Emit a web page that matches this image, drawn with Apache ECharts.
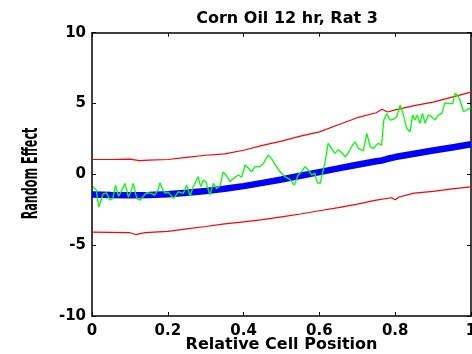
<!DOCTYPE html>
<html>
<head>
<meta charset="utf-8">
<script src="https://cdn.jsdelivr.net/npm/echarts@6/dist/echarts.min.js"></script>
<style>
html,body{margin:0;padding:0;background:#fff;}
#c{width:472px;height:354px;}
</style>
</head>
<body>
<div id="c"></div>
<script>
var titleText = 'Corn Oil 12 hr, Rat 3';
var xName = 'Relative Cell Position';
var yName = 'Random Effect';
var xTicks = [0, 0.2, 0.4, 0.6, 0.8, 1];
var yTicks = [-10, -5, 0, 5, 10];

// fitted curve (blue)
var fitX = [0, 0.05, 0.1, 0.15, 0.2, 0.25, 0.3, 0.35, 0.4, 0.45, 0.5, 0.55, 0.6, 0.65, 0.7, 0.75, 0.765, 0.78, 0.8, 0.85, 0.9, 0.95, 1.0];
var fitY = [-1.42, -1.45, -1.47, -1.45, -1.40, -1.30, -1.17, -1.02, -0.83, -0.60, -0.36, -0.10, 0.16, 0.42, 0.68, 0.92, 0.98, 1.10, 1.22, 1.45, 1.68, 1.90, 2.12];

// upper band (red)
var upX = [0, 0.05, 0.1, 0.125, 0.15, 0.2, 0.25, 0.3, 0.35, 0.4, 0.45, 0.5, 0.55, 0.6, 0.65, 0.7, 0.75, 0.765, 0.78, 0.8, 0.85, 0.9, 0.95, 1.0];
var upY = [1.05, 1.05, 1.08, 0.97, 1.00, 1.05, 1.20, 1.35, 1.45, 1.70, 2.05, 2.35, 2.70, 3.00, 3.50, 4.00, 4.35, 4.60, 4.40, 4.55, 4.85, 5.10, 5.45, 5.80];

// lower band (red)
var loX = [0, 0.05, 0.1, 0.115, 0.14, 0.2, 0.25, 0.3, 0.35, 0.4, 0.45, 0.5, 0.55, 0.6, 0.65, 0.7, 0.75, 0.79, 0.8, 0.81, 0.85, 0.9, 0.95, 1.0];
var loY = [-4.08, -4.10, -4.12, -4.25, -4.12, -4.02, -3.85, -3.68, -3.50, -3.35, -3.20, -3.00, -2.80, -2.57, -2.35, -2.10, -1.82, -1.65, -1.80, -1.60, -1.32, -1.20, -1.02, -0.88];

// observed (green)
var obsX = [0.003,0.011,0.018,0.029,0.038,0.047,0.055,0.062,0.070,0.077,0.087,0.096,0.103,0.109,0.118,0.127,0.137,0.145,0.156,0.166,0.174,0.179,0.187,0.193,0.201,0.215,0.228,0.241,0.250,0.259,0.267,0.272,0.280,0.287,0.294,0.301,0.311,0.320,0.329,0.338,0.346,0.355,0.364,0.373,0.386,0.395,0.404,0.412,0.421,0.430,0.443,0.452,0.459,0.465,0.474,0.483,0.494,0.509,0.522,0.534,0.544,0.553,0.562,0.571,0.580,0.588,0.594,0.602,0.610,0.616,0.623,0.632,0.641,0.650,0.659,0.668,0.676,0.685,0.694,0.703,0.707,0.716,0.725,0.734,0.742,0.755,0.764,0.770,0.778,0.786,0.795,0.804,0.813,0.821,0.830,0.839,0.846,0.852,0.858,0.865,0.872,0.879,0.887,0.896,0.905,0.914,0.923,0.931,0.943,0.952,0.958,0.964,0.971,0.980,0.989,0.996,1.0];
var obsY = [-0.87,-1.10,-2.30,-1.40,-1.30,-1.80,-1.70,-0.76,-1.55,-1.20,-0.64,-1.60,-1.20,-0.64,-1.70,-1.82,-1.50,-1.30,-1.35,-1.46,-1.10,-0.60,-1.10,-1.34,-1.25,-1.70,-1.23,-1.34,-0.76,-1.53,-0.87,-0.76,-0.17,-0.87,-0.40,-0.55,-1.46,-0.64,-1.00,-0.80,0.18,-0.10,-0.52,-0.30,-0.05,-0.20,0.66,0.45,0.18,0.55,0.54,0.75,1.10,1.36,1.10,0.70,0.25,-0.17,-0.35,-0.76,-0.05,0.18,0.54,0.30,-0.05,0.10,-0.59,-0.64,0.30,1.00,2.19,1.83,1.48,1.75,1.53,1.24,1.50,1.95,2.30,1.83,1.71,1.65,2.89,1.95,1.83,2.19,2.05,3.83,4.30,3.83,3.88,4.07,4.89,4.30,3.25,3.01,4.18,3.83,4.18,3.60,4.30,3.60,4.18,4.07,3.83,4.18,4.30,5.05,5.00,5.00,5.72,5.60,5.24,4.42,4.54,4.66,4.70];

function pairs(xs, ys){ return xs.map(function(x,i){ return [x, ys[i]]; }); }

var FONT = 'DejaVu Sans';
var chart = echarts.init(document.getElementById('c'), null, {renderer:'canvas'});

function axisBase(){
  return {
    type: 'value',
    axisLine: {show: true, onZero: false, lineStyle: {color: '#000', width: 1.5}},
    axisTick: {show: true, inside: true, length: 4, lineStyle: {color: '#000', width: 1}},
    splitLine: {show: false}
  };
}

chart.setOption({
  animation: false,
  backgroundColor: '#fff',
  title: {
    text: titleText,
    left: 282, top: 6,
    textAlign: 'center',
    textStyle: {fontFamily: FONT, fontWeight: 'bold', fontSize: 16, color: '#000'}
  },
  grid: {left: 92, right: 1, top: 32.7, bottom: 38, containLabel: false, outerBoundsMode: 'none'},
  xAxis: [
    Object.assign(axisBase(), {
      position: 'bottom', min: xTicks[0], max: xTicks[xTicks.length-1], interval: 0.2,
      name: xName, nameLocation: 'middle', nameGap: 21, nameMoveOverlap: false,
      nameTextStyle: {fontFamily: FONT, fontWeight: 'bold', fontSize: 16, color: '#000', verticalAlign: 'top'},
      axisLabel: {show: true, margin: 8, fontFamily: FONT, fontWeight: 'bold', fontSize: 15, color: '#000'}
    }),
    Object.assign(axisBase(), {
      position: 'top', min: 0, max: 1, interval: 0.2, axisLabel: {show: false}
    })
  ],
  yAxis: [
    Object.assign(axisBase(), {
      position: 'left', min: yTicks[0], max: yTicks[yTicks.length-1], interval: 5,
      axisLabel: {show: true, margin: 6, fontFamily: FONT, fontWeight: 'bold', fontSize: 15, color: '#000'}
    }),
    Object.assign(axisBase(), {
      position: 'right', min: -10, max: 10, interval: 5, axisLabel: {show: false}
    })
  ],
  graphic: [{
    type: 'text',
    x: 31, y: 173.5,
    rotation: Math.PI/2,
    scaleX: 0.56, scaleY: 1.1,
    style: {text: yName, fontFamily: FONT, fontWeight: 'bold', fontSize: 20, fill: '#000', align: 'center', verticalAlign: 'middle'}
  }],
  series: [
    {type: 'line', xAxisIndex: 0, yAxisIndex: 0, data: pairs(upX, upY), showSymbol: false, symbol: 'none', lineStyle: {color: '#ff0000', width: 1.2}, z: 2},
    {type: 'line', xAxisIndex: 0, yAxisIndex: 0, data: pairs(loX, loY), showSymbol: false, symbol: 'none', lineStyle: {color: '#ff0000', width: 1.2}, z: 2},
    {type: 'line', xAxisIndex: 0, yAxisIndex: 0, data: pairs(fitX, fitY), showSymbol: false, symbol: 'none', lineStyle: {color: '#0000ff', width: 6.5}, z: 3},
    {type: 'line', xAxisIndex: 0, yAxisIndex: 0, data: pairs(obsX, obsY), showSymbol: false, symbol: 'none', lineStyle: {color: '#00ff00', width: 1.3}, z: 4}
  ]
});
</script>
</body>
</html>
